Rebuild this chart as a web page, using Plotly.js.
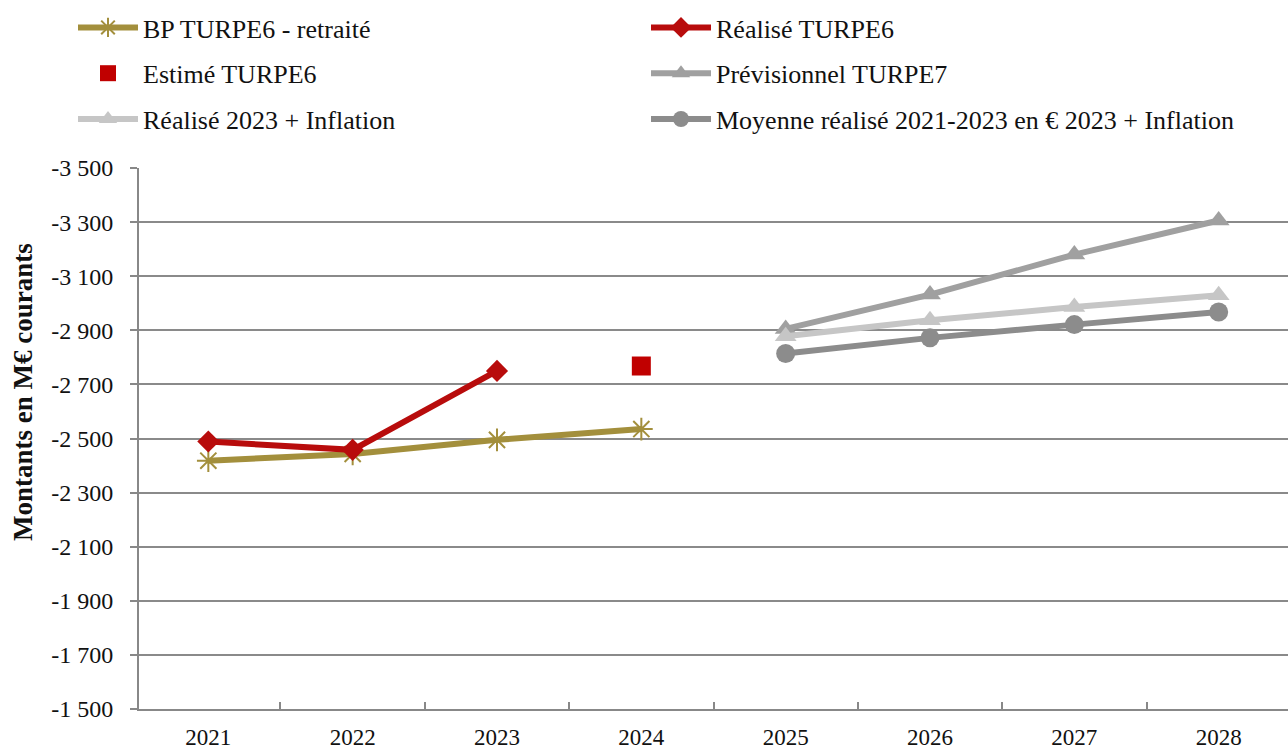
<!DOCTYPE html>
<html>
<head>
<meta charset="utf-8">
<script src="https://cdn.plot.ly/plotly-3.0.1.min.js"></script>
<style>html,body{margin:0;padding:0;background:#fff;}#chart{width:1288px;height:751px;}</style>
</head>
<body>
<div id="chart"></div>
<script>
// ---- Data ----
const years = ['2021', '2022', '2023', '2024', '2025', '2026', '2027', '2028'];

const bpYears = ['2021', '2022', '2023', '2024'];
const bpTurpe6 = [-2418, -2443, -2495, -2535];

const realYears = ['2021', '2022', '2023'];
const realiseTurpe6 = [-2489, -2458, -2750];

const estYears = ['2024'];
const estimeTurpe6 = [-2768];

const prevYears = ['2025', '2026', '2027', '2028'];
const previsionnelTurpe7 = [-2905, -3032, -3180, -3306];
const realise2023Inflation = [-2878, -2937, -2986, -3030];
const moyenneInflation = [-2814, -2872, -2921, -2968];

const yTickVals = [-3500, -3300, -3100, -2900, -2700, -2500, -2300, -2100, -1900, -1700, -1500];
const yTickText = ['-3 500', '-3 300', '-3 100', '-2 900', '-2 700', '-2 500', '-2 300', '-2 100', '-1 900', '-1 700', '-1 500'];

const FONT = 'Liberation Serif, Times New Roman, serif';

const traces = [
  {name: 'BP TURPE6 - retraité', x: bpYears, y: bpTurpe6, mode: 'lines+markers',
   line: {color: '#A38F3C', width: 6},
   marker: {symbol: 'asterisk-open', size: 19, color: '#A38F3C', line: {color: '#A38F3C', width: 2}},
   legend: 'legend', legendgroup: 'g1'},
  {name: 'Réalisé TURPE6', x: realYears, y: realiseTurpe6, mode: 'lines+markers',
   line: {color: '#B80C0C', width: 6},
   marker: {symbol: 'diamond', size: 17, color: '#B80C0C'},
   legend: 'legend2', legendgroup: 'g2'},
  {name: 'Estimé TURPE6', x: estYears, y: estimeTurpe6, mode: 'markers',
   marker: {symbol: 'square', size: 19, color: '#C00000'},
   legend: 'legend', legendgroup: 'g3'},
  {name: 'Prévisionnel TURPE7', x: prevYears, y: previsionnelTurpe7, mode: 'lines+markers',
   line: {color: '#A0A0A0', width: 6},
   marker: {symbol: 'triangle-up', size: 19, color: '#A0A0A0'},
   legend: 'legend2', legendgroup: 'g4'},
  {name: 'Réalisé 2023 + Inflation', x: prevYears, y: realise2023Inflation, mode: 'lines+markers',
   line: {color: '#C6C6C6', width: 6},
   marker: {symbol: 'triangle-up', size: 19, color: '#C6C6C6'},
   legend: 'legend', legendgroup: 'g5'},
  {name: 'Moyenne réalisé 2021-2023 en € 2023 + Inflation', x: prevYears, y: moyenneInflation, mode: 'lines+markers',
   line: {color: '#8C8C8C', width: 6},
   marker: {symbol: 'circle', size: 19, color: '#8C8C8C'},
   legend: 'legend2', legendgroup: 'g6'}
];

const legendCommon = {
  orientation: 'v', xref: 'container', yref: 'container', xanchor: 'left', yanchor: 'top',
  bgcolor: 'rgba(0,0,0,0)', borderwidth: 0, traceorder: 'grouped', tracegroupgap: 9,
  itemwidth: 60, font: {family: FONT, size: 26, color: '#111'}
};

const layout = {
  width: 1288, height: 751,
  margin: {l: 139, r: 0, t: 168, b: 42, pad: 0, autoexpand: false},
  paper_bgcolor: '#fff', plot_bgcolor: '#fff',
  font: {family: FONT, size: 24, color: '#111'},
  showlegend: true,
  legend: Object.assign({}, legendCommon, {x: 73 / 1288, y: 1 - 4 / 751}),
  legend2: Object.assign({}, legendCommon, {x: 646 / 1288, y: 1 - 4 / 751}),
  xaxis: {
    type: 'category', categoryorder: 'array', categoryarray: years,
    showline: true, linecolor: '#888', linewidth: 2,
    showgrid: false, zeroline: false, automargin: false,
    ticks: 'inside', tickson: 'boundaries', ticklen: 7, tickcolor: '#888', tickwidth: 2,
    ticklabelstandoff: 6,
    tickfont: {family: FONT, size: 23, color: '#111'}
  },
  yaxis: {
    range: [-1500, -3500], tickvals: yTickVals, ticktext: yTickText,
    showline: true, linecolor: '#888', linewidth: 2, automargin: false,
    showgrid: true, gridcolor: '#8a8a8a', gridwidth: 1.8, zeroline: false,
    ticks: 'outside', ticklen: 7, tickcolor: '#888', tickwidth: 2,
    ticklabelstandoff: 12,
    tickfont: {family: FONT, size: 24, color: '#111'}
  },
  annotations: [{
    text: '<b>Montants en M€ courants</b>', textangle: -90,
    xref: 'paper', yref: 'paper', x: (23 - 139) / 1149, y: (709 - 392) / 541,
    xanchor: 'center', yanchor: 'middle', showarrow: false,
    font: {family: FONT, size: 27, color: '#111'}
  }]
};

Plotly.newPlot('chart', traces, layout, {displayModeBar: false, responsive: false});
</script>
</body>
</html>
